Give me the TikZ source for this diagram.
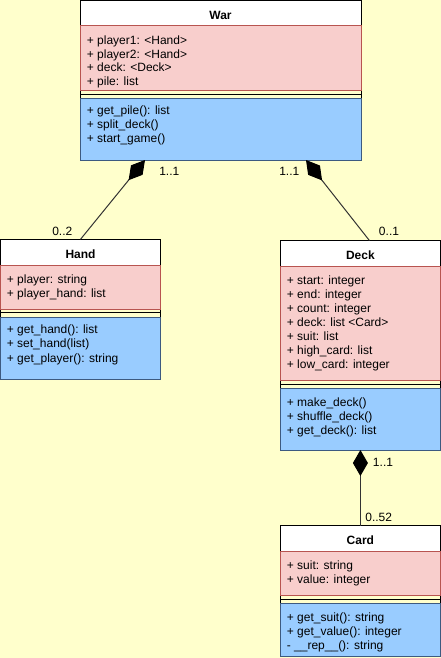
\documentclass[tikz,border=0pt]{standalone}
\usepackage{fontspec}
\setmainfont{Liberation Sans}
\usetikzlibrary{arrows.meta,calc}
\definecolor{bg}{HTML}{FFFFCC}
\definecolor{attrfill}{HTML}{F8CECC}
\definecolor{attrline}{HTML}{B85450}
\definecolor{methfill}{HTML}{99CCFF}
\definecolor{methline}{HTML}{3D5A80}
\definecolor{conn}{HTML}{333333}
\begin{document}
\begin{tikzpicture}[x=1bp,y=-1bp,
  every node/.style={font=\fontsize{12bp}{14bp}\selectfont},
  region/.style={anchor=north west,inner sep=0pt,outer sep=0pt,line width=1bp},
  classbox/.style={region,draw=black},
  headbox/.style={region,draw=black,fill=white},
  attrbox/.style={region,draw=attrline,fill=attrfill},
  methbox/.style={region,draw=methline,fill=methfill},
  sepline/.style={draw=black,line width=1bp},
  member/.style={anchor=west,inner sep=0pt,text height=8.6bp,text depth=2.5bp},
  title/.style={inner sep=0pt,text height=8.6bp,text depth=0pt,font=\fontsize{12bp}{14bp}\selectfont\bfseries},
  mult/.style={inner sep=0pt,text height=8.6bp,text depth=0pt},
  comp/.style={draw=conn,line width=1bp,{Diamond[length=26bp,width=15bp,fill=black,color=black]}-}
]
\fill[bg] (0,0) rectangle (441,658);
\useasboundingbox (0,0) rectangle (441,658);

% ---------- War ----------
\node[classbox,minimum width=281bp,minimum height=159.5bp] (warC) at (80,0.5) {};
\node[headbox,minimum width=281bp,minimum height=25.5bp] (warH) at (80,0.5) {};
\node[attrbox,minimum width=281bp,minimum height=64.5bp] (warA) at (80,26) {};
\node[methbox,minimum width=281bp,minimum height=61.5bp] (warM) at (80,98.5) {};
\draw[sepline] ($(warC.north west)+(0,94)$) -- ($(warC.north east)+(0,94)$);
\node[title] (warT) at (220.5,15) {War};
\node[member] (wa1) at (86.7,41.7) {+ player1: <Hand>};
\node[member] (wa2) at (86.7,55.2) {+ player2: <Hand>};
\node[member] (wa3) at (86.7,68.7) {+ deck: <Deck>};
\node[member] (wa4) at (86.7,82.2) {+ pile: list};
\node[member] (wm1) at (86.7,111.7) {+ get\_pile(): list};
\node[member] (wm2) at (86.7,125.7) {+ split\_deck()};
\node[member] (wm3) at (86.7,139.7) {+ start\_game()};

% ---------- Hand ----------
\node[classbox,minimum width=160bp,minimum height=139.7bp] (handC) at (0.5,239.3) {};
\node[headbox,minimum width=160bp,minimum height=25.7bp] (handH) at (0.5,239.3) {};
\node[attrbox,minimum width=160bp,minimum height=44bp] (handA) at (0.5,265) {};
\node[methbox,minimum width=160bp,minimum height=62bp] (handM) at (0.5,317) {};
\draw[sepline] ($(handC.north west)+(0,73.5)$) -- ($(handC.north east)+(0,73.5)$);
\node[title] (handT) at (80.5,254) {Hand};
\node[member] (ha1) at (6.7,280) {+ player: string};
\node[member] (ha2) at (6.7,294) {+ player\_hand: list};
\node[member] (hm1) at (6.7,330) {+ get\_hand(): list};
\node[member] (hm2) at (6.7,344.5) {+ set\_hand(list)};
\node[member] (hm3) at (6.7,359) {+ get\_player(): string};

% ---------- Deck ----------
\node[classbox,minimum width=160.2bp,minimum height=209.5bp] (deckC) at (280.3,240.5) {};
\node[headbox,minimum width=160.2bp,minimum height=25.5bp] (deckH) at (280.3,240.5) {};
\node[attrbox,minimum width=160.2bp,minimum height=114bp] (deckA) at (280.3,266) {};
\node[methbox,minimum width=160.2bp,minimum height=62bp] (deckM) at (280.3,388) {};
\draw[sepline] ($(deckC.north west)+(0,143.5)$) -- ($(deckC.north east)+(0,143.5)$);
\node[title] (deckT) at (360.4,255) {Deck};
\node[member] (da1) at (286.7,281.7) {+ start: integer};
\node[member] (da2) at (286.7,295.6) {+ end: integer};
\node[member] (da3) at (286.7,309.5) {+ count: integer};
\node[member] (da4) at (286.7,323.4) {+ deck: list <Card>};
\node[member] (da5) at (286.7,337.3) {+ suit: list};
\node[member] (da6) at (286.7,351.2) {+ high\_card: list};
\node[member] (da7) at (286.7,365.1) {+ low\_card: integer};
\node[member] (dm1) at (286.7,403.3) {+ make\_deck()};
\node[member] (dm2) at (286.7,417.3) {+ shuffle\_deck()};
\node[member] (dm3) at (286.7,431.3) {+ get\_deck(): list};

% ---------- Card ----------
\node[classbox,minimum width=160.2bp,minimum height=130.3bp] (cardC) at (280.3,525.7) {};
\node[headbox,minimum width=160.2bp,minimum height=25.8bp] (cardH) at (280.3,525.7) {};
\node[attrbox,minimum width=160.2bp,minimum height=44bp] (cardA) at (280.3,551.5) {};
\node[methbox,minimum width=160.2bp,minimum height=53bp] (cardM) at (280.3,603) {};
\draw[sepline] ($(cardC.north west)+(0,74)$) -- ($(cardC.north east)+(0,74)$);
\node[title] (cardT) at (360.4,540) {Card};
\node[member] (ca1) at (286.7,566) {+ suit: string};
\node[member] (ca2) at (286.7,580) {+ value: integer};
\node[member] (cm1) at (286.7,618) {+ get\_suit(): string};
\node[member] (cm2) at (286.7,632) {+ get\_value(): integer};
\node[member] (cm3) at (286.7,646) {- \_\_rep\_\_(): string};

% ---------- connectors ----------
\draw[comp] ($(warM.south west)+(65,0)$) -- (handH.north);
\draw[comp] ($(warM.south)+(85.5,0)$) -- ($(deckH.north)+(9,0)$);
\draw[comp] (deckM.south) -- (cardH.north);

\node[mult] (m1) at (169.3,170.7) {1..1};
\node[mult] (m2) at (62.3,230.7) {0..2};
\node[mult] (m3) at (289.3,170.7) {1..1};
\node[mult] (m4) at (389,231) {0..1};
\node[mult] (m5) at (383,461.7) {1..1};
\node[mult] (m6) at (378.7,516.7) {0..52};
\end{tikzpicture}
\end{document}
